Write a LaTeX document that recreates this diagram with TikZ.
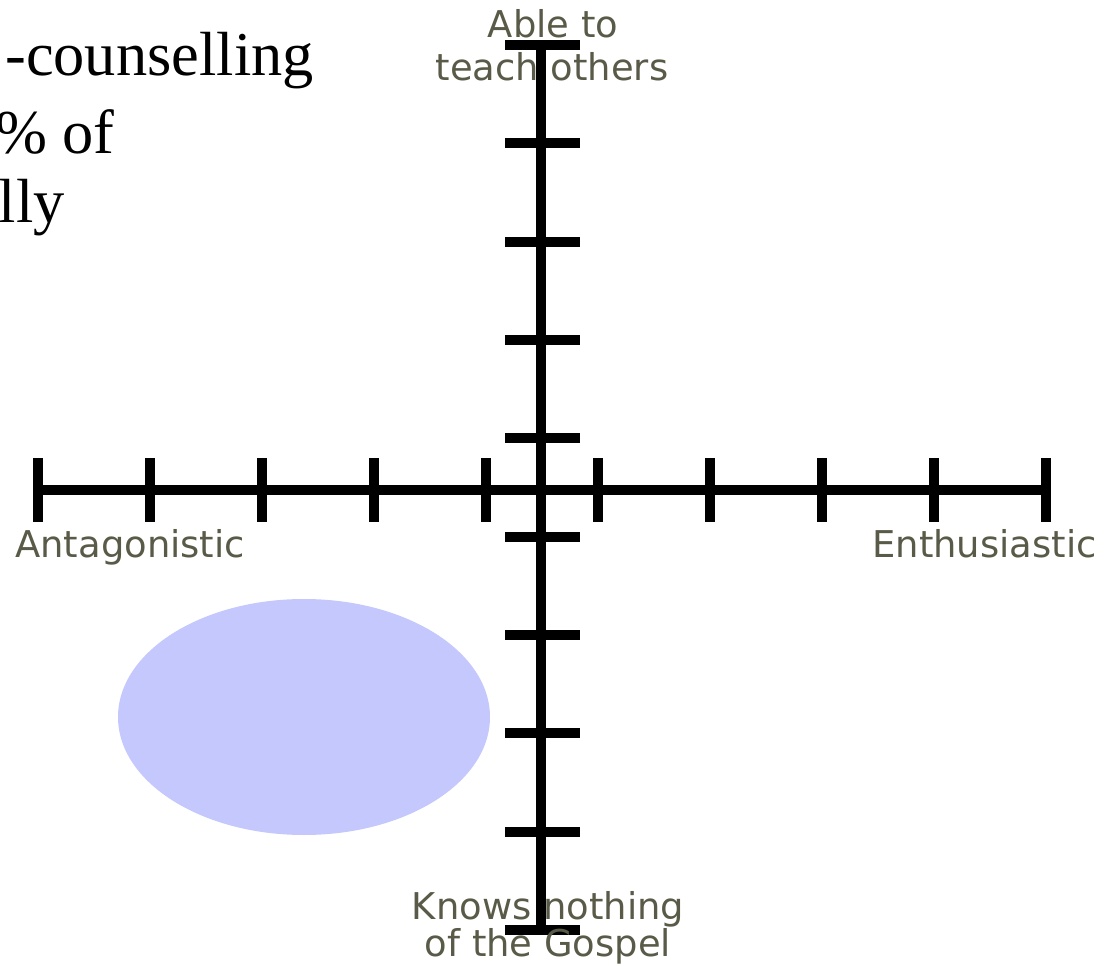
\documentclass[tikz,border=0pt]{standalone}
\usepackage{fontspec}
\setmainfont{Liberation Serif}
\newfontfamily\labelfont{DejaVu Sans}
\definecolor{blob}{RGB}{197,200,252}
\definecolor{labelgray}{RGB}{90,90,72}
\tikzset{
    axis/.style={line width=5.8pt},
    tick/.style={line width=5.8pt},
    axislabel/.style={draw=none,fill=none,inner sep=0pt,text=labelgray,font=\labelfont\fontsize{21}{24}\selectfont},
    slidetext/.style={draw=none,fill=none,inner sep=0pt,font=\fontsize{35.5}{40}\selectfont}
}
\begin{document}
\begin{tikzpicture}[x=0.02cm,y=-0.02cm]
        \useasboundingbox (0,0) rectangle (1106,966);
        \fill[blob] (304,717) ellipse [x radius=186,y radius=118];
        
        \coordinate (top) at (541,45);
        \coordinate (bot) at (541,930);
        \coordinate (left) at (38,490);
        \coordinate (right) at (1046,490);
        \draw[axis] (left) -- (right);
        \draw[axis] (top) -- (bot);
        
        \foreach \x in {0,...,9}
            \draw[tick] (38+112*\x, 458) -- (38+112*\x, 522);
        \foreach \y in {0,...,9}
            \draw[tick] (505, 45+98.33*\y) -- (580, 45+98.33*\y);
        
        \node[slidetext,anchor=base west] (line1) at (5,76) {-counselling};
        \node[slidetext,anchor=base east] (line2) at (115,154) {\% of};
        \node[slidetext,anchor=base east] (line3) at (65,223) {lly};
        
        \node[axislabel,anchor=base] (able) at (553,38) {Able to};
        \node[axislabel,anchor=base] (teach) at (552,81) {teach others};
        \node[axislabel,anchor=base west] (antag) at (15,557) {Antagonistic};
        \node[axislabel,anchor=base east] (enth) at (1097,557) {Enthusiastic};
        \node[axislabel,anchor=base] (knows) at (548,919) {Knows nothing};
        \node[axislabel,anchor=base] (gospel) at (548,956) {of the Gospel};
    \end{tikzpicture}
\end{document}
